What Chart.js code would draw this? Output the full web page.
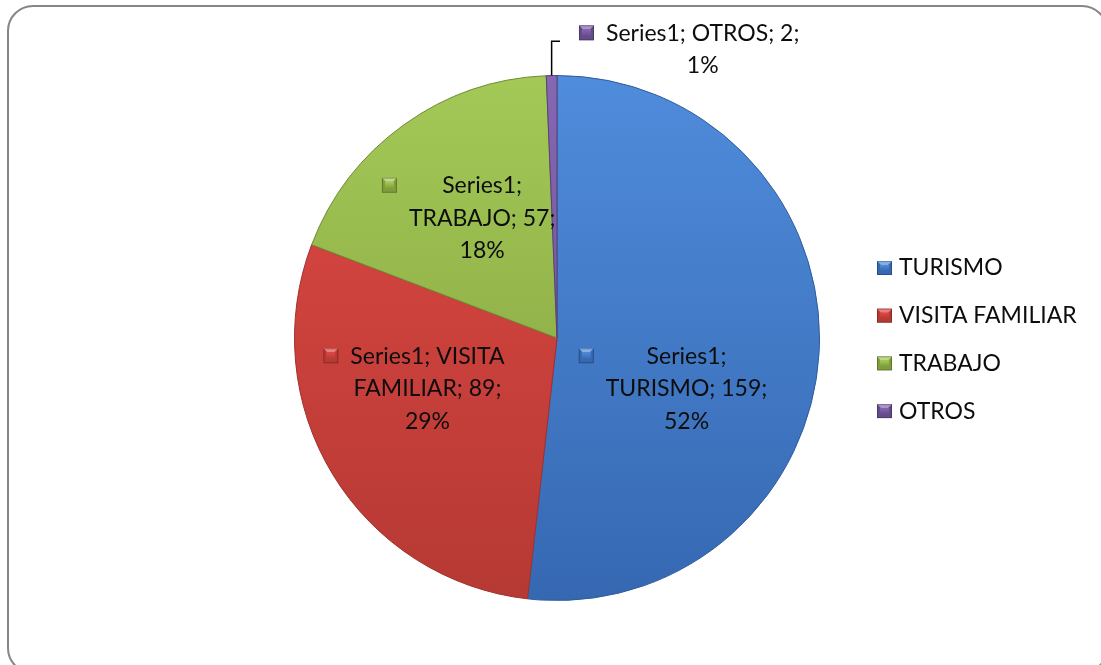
<!DOCTYPE html>
<html>
<head>
<meta charset="utf-8">
<script src="https://cdn.jsdelivr.net/npm/chart.js@4/dist/chart.umd.min.js"></script>
<style>
  html, body { margin: 0; padding: 0; background: #fff; }
  #wrap { width: 1101px; height: 665px; position: relative; }
</style>
</head>
<body>
<div id="wrap"><canvas id="pieChart" width="1101" height="665"></canvas></div>
<script>
// Data
const seriesName = 'Series1';
const categories = ['TURISMO', 'VISITA FAMILIAR', 'TRABAJO', 'OTROS'];
const values = [159, 89, 57, 2];
const percents = ['52%', '29%', '18%', '1%'];

// how Excel wrapped each data label
const labelLines = [
  [seriesName + ';', categories[0] + '; ' + values[0] + ';', percents[0]],
  [seriesName + '; VISITA', 'FAMILIAR; ' + values[1] + ';', percents[1]],
  [seriesName + ';', categories[2] + '; ' + values[2] + ';', percents[2]],
  [seriesName + '; ' + categories[3] + '; ' + values[3] + ';', percents[3]]
];

// slice colours (light top, dark bottom)
const lightColors = ['#4f8cdb', '#de4843', '#a4c957', '#8667b2'];
const darkColors = ['#3668b2', '#b63934', '#809d3c', '#664b8b'];
const edgeColors = ['#2f5c9c', '#a1302c', '#6f8a34', '#57407a'];

// label placement: angle (deg, 0 = right, clockwise) and distance as part of the radius
const labelPlace = [
  { angle: 21.4, dist: 0.53 },
  { angle: 158.6, dist: 0.53 },
  { angle: 238, dist: 0.538 },
  { angle: -63.2, dist: 1.231 }
];

const FONT = '23px Lato, "Open Sans", sans-serif';
const LINE_H = 32.5;

function sliceFill(ctx) {
  const i = ctx.dataIndex;
  const chart = ctx.chart;
  const area = chart.chartArea;
  if (!area || i === undefined) return lightColors[i || 0];
  const g = chart.ctx.createLinearGradient(0, area.top, 0, area.bottom);
  g.addColorStop(0, lightColors[i]);
  g.addColorStop(1, darkColors[i]);
  return g;
}

function drawMarker(ctx, x, y, w, h, i) {
  // small bevelled square like the office markers
  const b = 4;
  ctx.save();
  ctx.fillStyle = darkColors[i];
  ctx.fillRect(x, y, w, h);
  // lighter top wedge
  ctx.fillStyle = lightColors[i];
  ctx.beginPath();
  ctx.moveTo(x, y); ctx.lineTo(x + w, y); ctx.lineTo(x + w - b, y + b); ctx.lineTo(x + b, y + b);
  ctx.closePath(); ctx.fill();
  ctx.fillStyle = 'rgba(255,255,255,0.3)';
  ctx.fill();
  // face
  const g = ctx.createLinearGradient(0, y + b, 0, y + h - b);
  g.addColorStop(0, lightColors[i]);
  g.addColorStop(1, darkColors[i]);
  ctx.fillStyle = g;
  ctx.fillRect(x + b - 1, y + b, w - 2 * b + 2, h - 2 * b);
  // thin outline
  ctx.strokeStyle = 'rgba(0,0,0,0.25)';
  ctx.lineWidth = 1;
  ctx.strokeRect(x + 0.5, y + 0.5, w - 1, h - 1);
  ctx.restore();
}

const framePlugin = {
  id: 'frame',
  beforeDraw(chart) {
    const ctx = chart.ctx;
    ctx.save();
    ctx.fillStyle = '#fff';
    ctx.fillRect(0, 0, chart.width, chart.height);
    ctx.strokeStyle = '#868686';
    ctx.lineWidth = 2;
    ctx.beginPath();
    ctx.roundRect(8, 6, 1099, 667, 25);
    ctx.stroke();
    ctx.restore();
  }
};

const labelPlugin = {
  id: 'sliceLabels',
  afterDatasetsDraw(chart) {
    const ctx = chart.ctx;
    const arcs = chart.getDatasetMeta(0).data;
    ctx.save();
    ctx.font = FONT;
    ctx.textAlign = 'center';
    ctx.textBaseline = 'middle';
    arcs.forEach((arc, i) => {
      const p = labelPlace[i];
      const a = p.angle * Math.PI / 180;
      const r = arc.outerRadius * p.dist;
      const cx = arc.x + Math.cos(a) * r;
      const cy = arc.y + Math.sin(a) * r;
      const lines = labelLines[i];
      const top = cy - (lines.length - 1) * LINE_H / 2;
      let maxW = 0;
      lines.forEach(t => { maxW = Math.max(maxW, ctx.measureText(t).width); });
      ctx.fillStyle = '#0d0d0d';
      lines.forEach((t, k) => ctx.fillText(t, cx, top + k * LINE_H));
      // marker left of the widest line, on the first line
      const mx = cx - maxW / 2 - 27;
      drawMarker(ctx, mx, top - 8, 15, 15, i);

      // leader line for labels outside the pie
      if (p.dist > 1) {
        const mid = (arc.startAngle + arc.endAngle) / 2;
        const ex = arc.x + Math.cos(mid) * arc.outerRadius;
        const ey = arc.y + Math.sin(mid) * arc.outerRadius;
        const ly = top + 8;
        ctx.strokeStyle = '#000';
        ctx.lineWidth = 1.5;
        ctx.beginPath();
        ctx.moveTo(ex, ey);
        ctx.lineTo(ex, ly);
        ctx.lineTo(mx - 19, ly);
        ctx.stroke();
      }
    });
    ctx.restore();
  }
};

const legendPlugin = {
  id: 'sideLegend',
  afterDraw(chart) {
    const ctx = chart.ctx;
    const x0 = 877;
    const y0 = 268;
    const step = 47.7;
    ctx.save();
    ctx.font = FONT;
    ctx.textAlign = 'left';
    ctx.textBaseline = 'middle';
    categories.forEach((c, i) => {
      const y = y0 + i * step;
      drawMarker(ctx, x0, y - 7, 15, 14, i);
      ctx.fillStyle = '#0d0d0d';
      ctx.fillText(c, x0 + 22, y);
    });
    ctx.restore();
  }
};

new Chart(document.getElementById('pieChart'), {
  type: 'pie',
  data: {
    labels: categories,
    datasets: [{
      data: values,
      backgroundColor: sliceFill,
      borderColor: edgeColors,
      borderWidth: 1
    }]
  },
  options: {
    responsive: false,
    animation: false,
    events: [],
    layout: { padding: { left: 294, right: 281, top: 75, bottom: 64 } },
    plugins: {
      legend: { display: false },
      tooltip: { enabled: false }
    }
  },
  plugins: [framePlugin, labelPlugin, legendPlugin]
});
</script>
</body>
</html>
